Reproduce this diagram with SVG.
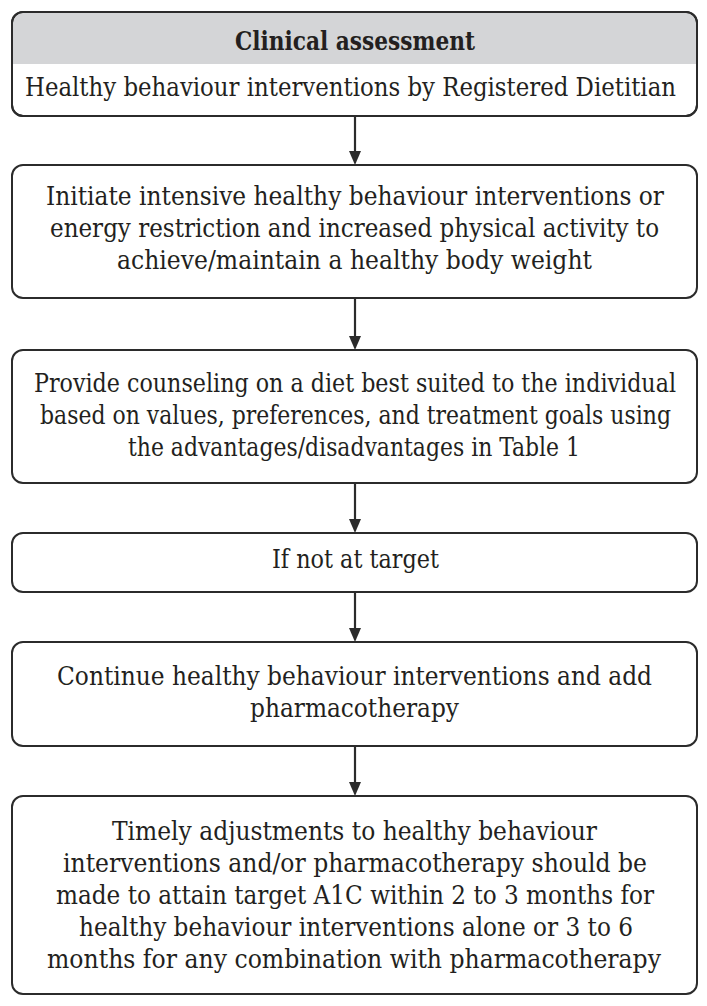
<svg xmlns="http://www.w3.org/2000/svg" width="707" height="1006" viewBox="0 0 707 1006">
<style>
.box{fill:#fff;stroke:#2b2b2b;stroke-width:2}
.t{font-family:"DejaVu Serif Condensed","DejaVu Serif","Liberation Serif",serif;font-size:25.5px;fill:#231f20;text-anchor:middle}
.b{font-weight:bold}
.c{stroke:#2b2b2b;stroke-width:2.2;fill:none}
.ah{fill:#2b2b2b}
</style>
<rect width="707" height="1006" fill="#fff"/>
<g id="connectors">
<line class="c" x1="355" y1="116" x2="355" y2="152"/>
<polygon class="ah" points="349,151 361,151 355,165"/>
<line class="c" x1="355" y1="298" x2="355" y2="337"/>
<polygon class="ah" points="349,336 361,336 355,350"/>
<line class="c" x1="355" y1="483" x2="355" y2="520"/>
<polygon class="ah" points="349,519 361,519 355,533"/>
<line class="c" x1="355" y1="592" x2="355" y2="629"/>
<polygon class="ah" points="349,628 361,628 355,642"/>
<line class="c" x1="355" y1="746" x2="355" y2="783"/>
<polygon class="ah" points="349,782 361,782 355,796"/>
</g>
<g id="n1">
<rect class="box" x="12" y="12" width="685" height="104" rx="11"/>
<path d="M23,13 H686 A10,10 0 0 1 696,23 V64 H13 V23 A10,10 0 0 1 23,13 Z" fill="#d4d5d7"/>
<rect x="12" y="12" width="685" height="104" rx="11" fill="none" stroke="#2b2b2b" stroke-width="2"/>
<text class="t b" x="355" y="50" textLength="240" lengthAdjust="spacingAndGlyphs">Clinical assessment</text>
<text class="t" x="350.5" y="96" textLength="651" lengthAdjust="spacingAndGlyphs">Healthy behaviour interventions by Registered Dietitian</text>
</g>
<g id="n2">
<rect class="box" x="12" y="165" width="685" height="133" rx="11"/>
<text class="t" x="355" y="205" textLength="618" lengthAdjust="spacingAndGlyphs">Initiate intensive healthy behaviour interventions or</text>
<text class="t" x="354.5" y="237" textLength="609" lengthAdjust="spacingAndGlyphs">energy restriction and increased physical activity to</text>
<text class="t" x="354.5" y="269" textLength="475" lengthAdjust="spacingAndGlyphs">achieve/maintain a healthy body weight</text>
</g>
<g id="n3">
<rect class="box" x="12" y="350" width="685" height="133" rx="11"/>
<text class="t" x="355" y="392" textLength="642" lengthAdjust="spacingAndGlyphs">Provide counseling on a diet best suited to the individual</text>
<text class="t" x="355.5" y="424" textLength="631" lengthAdjust="spacingAndGlyphs">based on values, preferences, and treatment goals using</text>
<text class="t" x="354" y="456" textLength="452" lengthAdjust="spacingAndGlyphs">the advantages/disadvantages in Table 1</text>
</g>
<g id="n4">
<rect class="box" x="12" y="533" width="685" height="59" rx="11"/>
<text class="t" x="355.5" y="568" textLength="167" lengthAdjust="spacingAndGlyphs">If not at target</text>
</g>
<g id="n5">
<rect class="box" x="12" y="642" width="685" height="104" rx="11"/>
<text class="t" x="354.5" y="685" textLength="595" lengthAdjust="spacingAndGlyphs">Continue healthy behaviour interventions and add</text>
<text class="t" x="354.5" y="717" textLength="209" lengthAdjust="spacingAndGlyphs">pharmacotherapy</text>
</g>
<g id="n6">
<rect class="box" x="12" y="796" width="685" height="198" rx="11"/>
<text class="t" x="354.5" y="840" textLength="485" lengthAdjust="spacingAndGlyphs">Timely adjustments to healthy behaviour</text>
<text class="t" x="355" y="872" textLength="584" lengthAdjust="spacingAndGlyphs">interventions and/or pharmacotherapy should be</text>
<text class="t" x="355" y="904" textLength="598" lengthAdjust="spacingAndGlyphs">made to attain target A1C within 2 to 3 months for</text>
<text class="t" x="356" y="936" textLength="554" lengthAdjust="spacingAndGlyphs">healthy behaviour interventions alone or 3 to 6</text>
<text class="t" x="354" y="968" textLength="614" lengthAdjust="spacingAndGlyphs">months for any combination with pharmacotherapy</text>
</g>
</svg>
